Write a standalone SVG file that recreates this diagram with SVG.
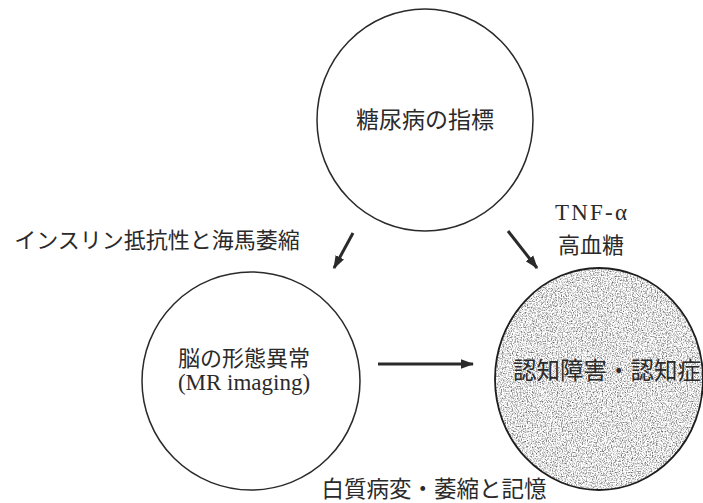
<svg xmlns="http://www.w3.org/2000/svg" width="703" height="503" viewBox="0 0 703 503">
<style>
.c{fill:#ffffff;stroke:#2a2a2a;stroke-width:1.5}
.jp{font-family:"Noto Sans CJK JP","Noto Sans CJK SC",sans-serif;fill:#2a2a2a}
.en{font-family:"Liberation Serif","Noto Sans CJK JP",serif;fill:#2a2a2a}
.a{stroke:#2a2a2a;stroke-width:3;fill:none;marker-end:url(#ah)}
</style>
<defs>
<marker id="ah" viewBox="0 0 10 10" refX="9" refY="5" markerWidth="4.5" markerHeight="4.5" orient="auto" markerUnits="strokeWidth">
<path d="M0,1.5 L10,5 L0,8.5 Z" fill="#2a2a2a"/>
</marker>
<filter id="noise" x="0" y="0" width="1" height="1" color-interpolation-filters="sRGB">
<feTurbulence type="fractalNoise" baseFrequency="0.8" numOctaves="2" seed="3" result="t"/>
<feColorMatrix in="t" type="matrix" values="1.5 0 0 0 0.14  1.5 0 0 0 0.14  1.5 0 0 0 0.14  0 0 0 0 1" result="g"/>
<feComposite in="g" in2="SourceGraphic" operator="in"/>
</filter>
</defs>
<g id="connectors">
<line class="a" x1="353" y1="233" x2="334" y2="268"/>
<line class="a" x1="508" y1="231" x2="537" y2="268"/>
<line class="a" x1="378" y1="364" x2="473" y2="364"/>
</g>
<g id="node-diabetes">
<ellipse class="c" cx="425" cy="120" rx="108" ry="111"/>
<text class="jp" x="425" y="128" font-size="23" text-anchor="middle">糖尿病の指標</text>
</g>
<g id="node-brain">
<ellipse class="c" cx="251" cy="381" rx="109" ry="109"/>
<text class="jp" x="244" y="366" font-size="22" text-anchor="middle">脳の形態異常</text>
<text class="en" x="244" y="390" font-size="23" text-anchor="middle">(MR imaging)</text>
</g>
<g id="node-dementia">
<ellipse cx="599" cy="379" rx="104" ry="111" fill="#999" filter="url(#noise)"/>
<ellipse cx="599" cy="379" rx="104" ry="111" fill="none" stroke="#1e1e1e" stroke-width="1.8"/>
<text class="jp" x="607" y="379" font-size="23.5" text-anchor="middle" fill="#1e1e1e">認知障害・認知症</text>
</g>
<g id="labels">
<text class="jp" x="157" y="248" font-size="22" text-anchor="middle">インスリン抵抗性と海馬萎縮</text>
<text class="en" x="591" y="220" font-size="23" text-anchor="middle" textLength="72">TNF-α</text>
<text class="jp" x="591" y="253" font-size="22" text-anchor="middle">高血糖</text>
<text class="jp" x="434" y="497" font-size="22.5" text-anchor="middle">白質病変・萎縮と記憶</text>
</g>
</svg>
